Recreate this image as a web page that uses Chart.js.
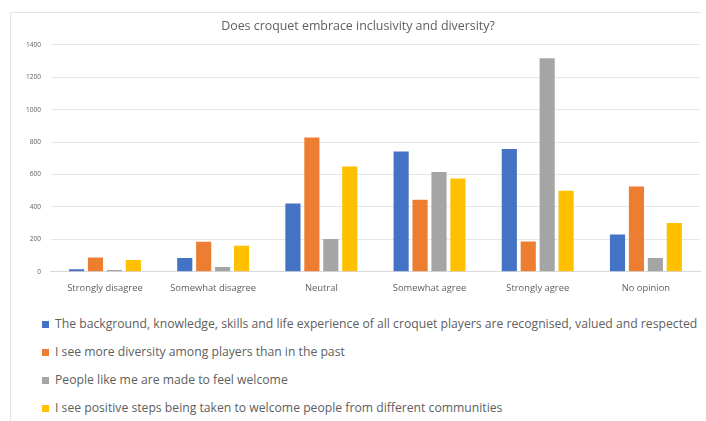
<!DOCTYPE html>
<html lang="en">
<head>
    <meta charset="UTF-8">
    <title>Does croquet embrace inclusivity and diversity?</title>
    <script src="https://cdn.jsdelivr.net/npm/chart.js"></script>
    <style>
        body { margin: 0; background: #fff; font-family: "Open Sans", sans-serif; }
        #wrap { position: relative; width: 706px; height: 421px; overflow: hidden; }
        #frame { position: absolute; left: 10px; top: 12px; width: 690px; height: 420px; border: 1px solid #e4e4e4; border-right: none; }
        #box { position: absolute; left: 10px; top: 13px; width: 692px; height: 284px; }
        #legend { position: absolute; left: 42px; top: 315px; margin: 0; padding: 0; list-style: none; }
        #legend li { height: 28px; font-size: 12.2px; color: #606060; white-space: nowrap; }
        #legend span { display: inline-block; width: 7px; height: 7px; margin-right: 6px; vertical-align: 0; }
    </style>
</head>
<body>
<div id="wrap">
    <div id="frame"></div>
    <div id="box"><canvas id="chart"></canvas></div>
    <ul id="legend"></ul>
</div>
<script>
    const categories = ["Strongly disagree", "Somewhat disagree", "Neutral", "Somewhat agree", "Strongly agree", "No opinion"];
    const seriesNames = [
        "The background, knowledge, skills and life experience of all croquet players are recognised, valued and respected",
        "I see more diversity among players than in the past",
        "People like me are made to feel welcome",
        "I see positive steps being taken to welcome people from different communities"
    ];
    const backgroundValues = [15, 84, 421, 742, 757, 230];
    const diversityValues = [88, 185, 829, 444, 187, 526];
    const welcomeValues = [10, 29, 202, 615, 1318, 85];
    const stepsValues = [72, 160, 650, 576, 500, 300];
    const colors = ["#4472C4", "#ED7D31", "#A5A5A5", "#FFC000"];

    const allValues = [backgroundValues, diversityValues, welcomeValues, stepsValues];

    const chart = new Chart(document.getElementById("chart"), {
        type: "bar",
        data: {
            labels: categories,
            datasets: allValues.map((vals, i) => ({
                label: seriesNames[i],
                data: vals,
                backgroundColor: colors[i],
                categoryPercentage: 0.7,
                barPercentage: 0.8
            }))
        },
        options: {
            responsive: true,
            maintainAspectRatio: false,
            animation: false,
            layout: { padding: { left: 6, right: 2, top: 3, bottom: 0 } },
            plugins: {
                legend: { display: false },
                tooltip: { enabled: false },
                title: {
                    display: true,
                    text: "Does croquet embrace inclusivity and diversity?",
                    color: "#606060",
                    font: { family: "Open Sans", size: 12.4, weight: "normal" },
                    padding: { top: 3, bottom: 11 }
                }
            },
            scales: {
                x: {
                    grid: { display: false },
                    border: { color: "#d9d9d9" },
                    ticks: { color: "#606060", font: { family: "Open Sans", size: 9.4 }, padding: 3 }
                },
                y: {
                    min: 0,
                    max: 1400,
                    ticks: {
                        stepSize: 200,
                        color: "#606060",
                        font: { family: "Open Sans", size: 6.5 },
                        padding: 10,
                        callback: v => String(v)
                    },
                    grid: { color: "#e6e6e6", drawTicks: false },
                    border: { display: false }
                }
            }
        }
    });

    // legend listed one entry per line, below the chart
    const legend = document.getElementById("legend");
    chart.data.datasets.forEach(ds => {
        const li = document.createElement("li");
        const sw = document.createElement("span");
        sw.style.background = ds.backgroundColor;
        li.appendChild(sw);
        li.appendChild(document.createTextNode(ds.label));
        legend.appendChild(li);
    });
</script>
</body>
</html>
